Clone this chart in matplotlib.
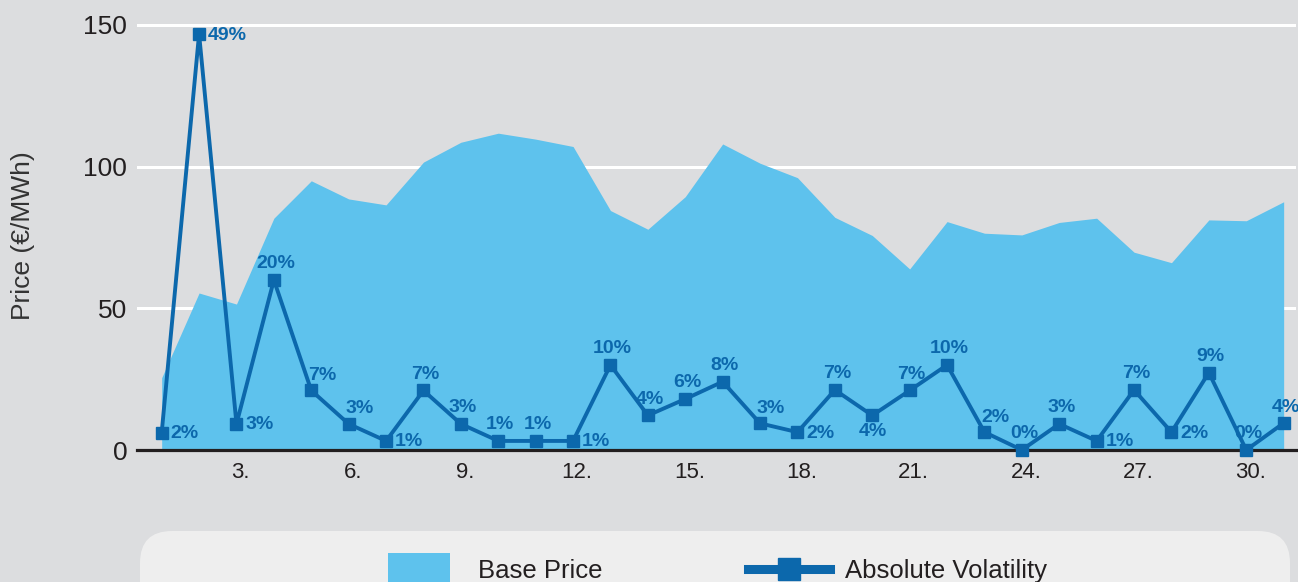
import matplotlib
matplotlib.use("Agg")
import matplotlib.pyplot as plt
from matplotlib.patches import FancyBboxPatch, Rectangle
from matplotlib.lines import Line2D
from matplotlib.transforms import IdentityTransform, ScaledTranslation

# daily values
days = list(range(1, 32))
base_price = [25.5, 55.4, 51.5, 81.8, 95.0, 88.6, 86.5, 101.6, 108.6, 111.8,
              109.7, 107.1, 84.5, 77.9, 89.4, 108.0, 101.2, 96.1, 82.1, 75.7,
              63.9, 80.6, 76.5, 75.9, 80.3, 81.8, 69.8, 66.1, 81.2, 80.9, 87.6]
volatility = [6.1, 146.8, 9.2, 60.0, 21.0, 9.2, 3.2, 21.0, 9.2, 3.2,
              3.2, 3.2, 30.0, 12.2, 18.0, 24.1, 9.4, 6.3, 21.2, 12.2,
              21.0, 30.0, 6.3, 0.0, 9.2, 3.2, 21.2, 6.3, 27.3, 0.0, 9.5]
vol_labels = ["2%", "49%", "3%", "20%", "7%", "3%", "1%", "7%", "3%", "1%",
              "1%", "1%", "10%", "4%", "6%", "8%", "3%", "2%", "7%", "4%",
              "7%", "10%", "2%", "0%", "3%", "1%", "7%", "2%", "9%", "0%", "4%"]
# where each percentage sits: r = right, a = above, ar = above right, b = below
label_pos = ["r", "r", "r", "a", "ar", "ar", "r", "a", "a", "a",
             "a", "r", "a", "a", "a", "a", "ar", "r", "a", "b",
             "a", "a", "ar", "a", "a", "r", "a", "r", "a", "a", "a"]
x_ticks = [3, 6, 9, 12, 15, 18, 21, 24, 27, 30]

W, H = 1298, 582
bg = "#dcdddf"
area_col = "#5ec2ed"
line_col = "#0c68ac"
dark = "#231f20"

plt.rcParams["font.family"] = ["Liberation Sans", "DejaVu Sans"]

fig = plt.figure(figsize=(W / 100, H / 100), dpi=100, facecolor=bg)
ax = fig.add_axes([137 / W, 132 / H, (1296 - 137) / W, 450 / H])
ax.set_facecolor(bg)

ax.fill_between(days, 0, base_price, color=area_col, lw=0, zorder=2)
ax.axhline(0, color=dark, lw=2.3, zorder=3, clip_on=False)
ax.plot(days, volatility, color=line_col, lw=2.8, marker="s", ms=8.5,
        zorder=4, clip_on=False)

offsets = {"r": (9, -1, "left"), "a": (2, 16, "center"),
           "ar": (11, 15, "center"), "b": (1, -16, "center")}
for d, v, lab, p in zip(days, volatility, vol_labels, label_pos):
    dx, dy, ha = offsets[p]
    ax.annotate(lab, (d, v), xytext=(dx, dy), textcoords="offset pixels",
                ha=ha, va="center", fontsize=14, fontweight="bold",
                color=line_col, zorder=5, annotation_clip=False)

ax.set_xlim(0.34, 31.33)
ax.set_ylim(0, 158.8)
ax.set_xticks(x_ticks)
ax.set_xticklabels([f"{t}." for t in x_ticks])
ax.set_yticks([0, 50, 100, 150])
ax.yaxis.grid(True, color="white", lw=2.2)
ax.set_axisbelow(True)
for s in ax.spines.values():
    s.set_visible(False)
ax.tick_params(axis="x", length=0, pad=9, labelsize=16, labelcolor=dark)
ax.tick_params(axis="y", length=0, pad=7, labelsize=19, labelcolor=dark)
# the digits sit over the tick, the dot hangs to the right
shift = ScaledTranslation(4 / 100, 0, fig.dpi_scale_trans)
for lbl in ax.get_xticklabels():
    lbl.set_transform(lbl.get_transform() + shift)

fig.text(23 / W, 1 - 236 / H, "Price (€/MWh)", rotation=90, ha="center",
         va="center", fontsize=19, color="#333333")

# legend drawn by hand in pixel space
idt = IdentityTransform()
fig.add_artist(FancyBboxPatch((140, H - 625), 1150, 94,
                              boxstyle="round,pad=0,rounding_size=32",
                              transform=idt, fc="#eeeeee", ec="none"))
fig.add_artist(Rectangle((388, H - 590), 62, 37, transform=idt,
                         fc=area_col, ec="none"))
fig.add_artist(Line2D([748, 830], [H - 569, H - 569], transform=idt,
                      color=line_col, lw=6.5))
fig.add_artist(Line2D([789], [H - 569], transform=idt, color=line_col,
                      marker="s", ms=15.5, lw=0))
fig.text(478, H - 578, "Base Price", transform=idt, fontsize=18.5,
         color=dark, va="baseline")
fig.text(845, H - 578, "Absolute Volatility", transform=idt, fontsize=18.5,
         color=dark, va="baseline")

fig.savefig("out.png", dpi=100, facecolor=bg)
